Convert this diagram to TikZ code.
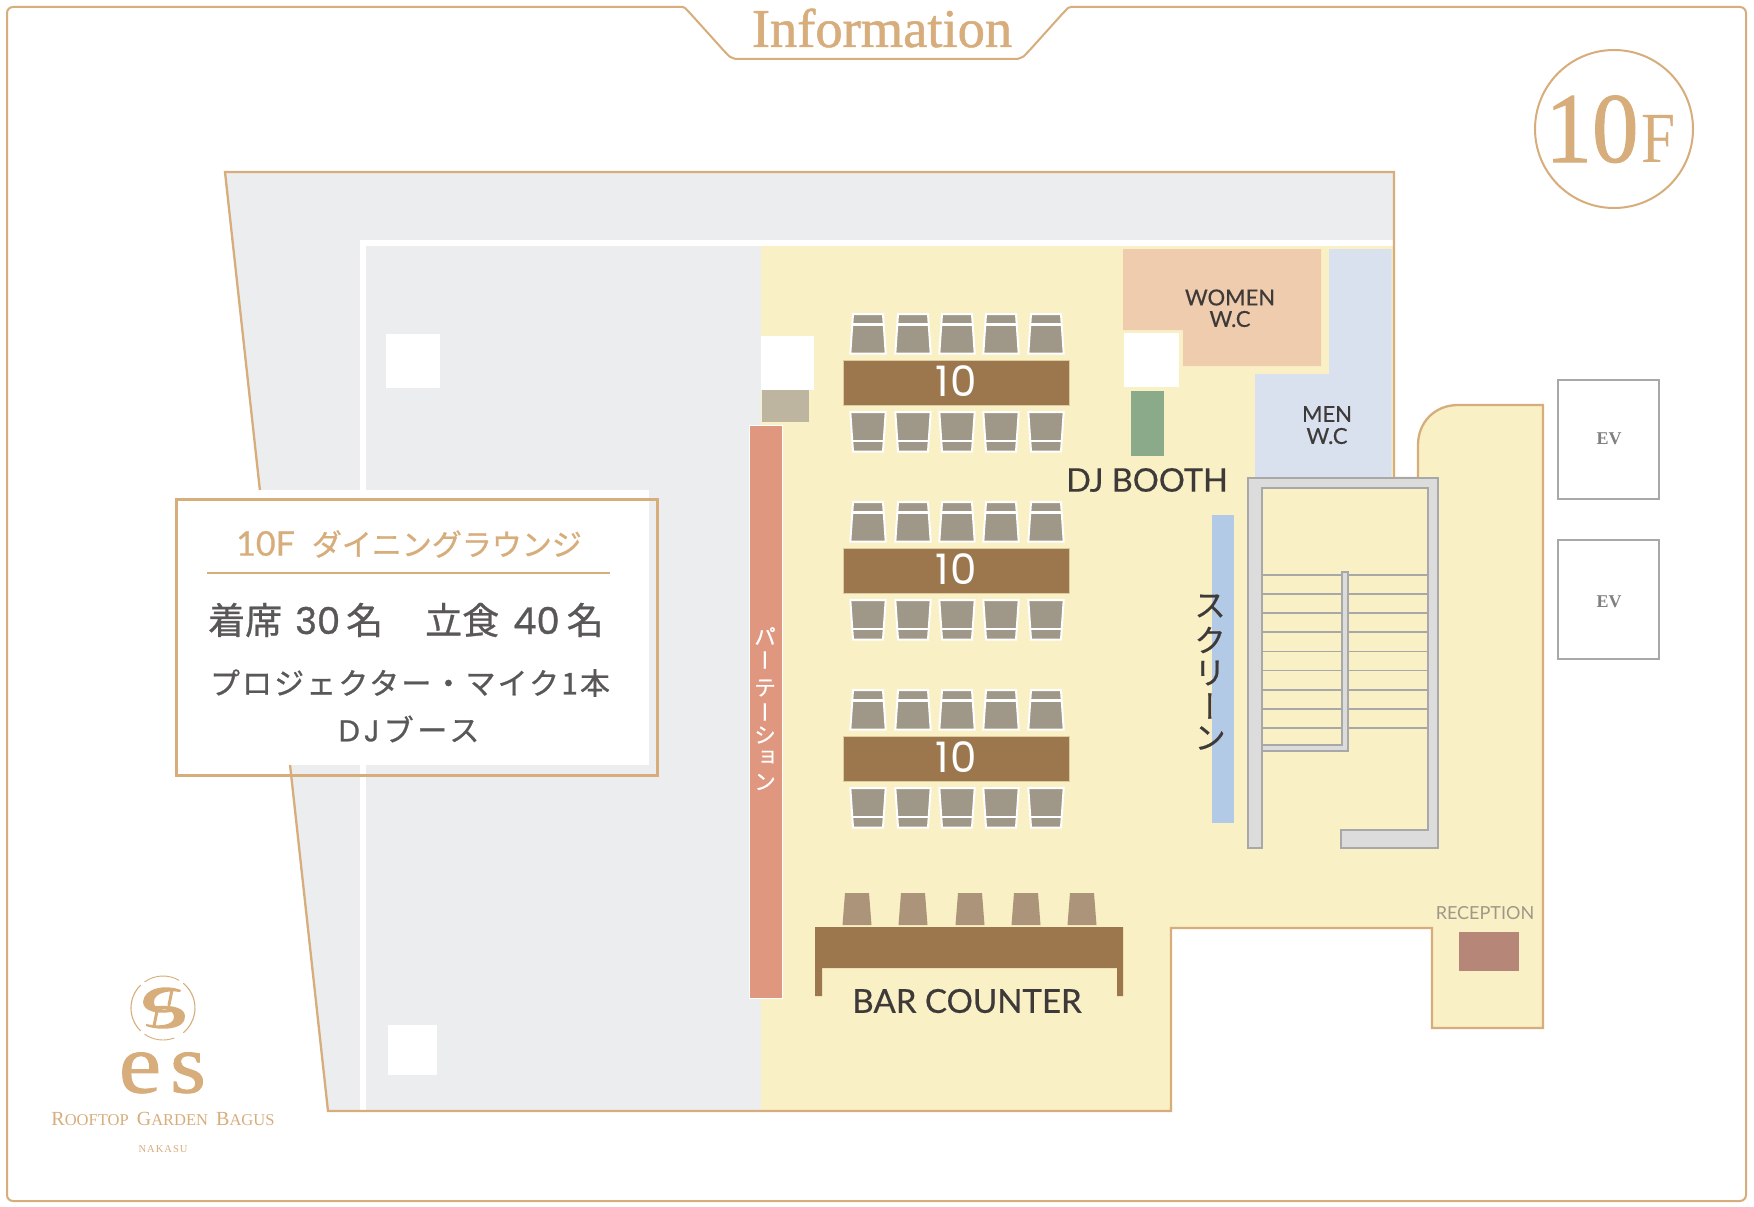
\documentclass[tikz,border=0pt]{standalone}
\usepackage{fontspec}
\setmainfont{Liberation Serif}
\newfontfamily\serb[FakeBold=1.0]{Liberation Serif}
\newfontfamily\jp[FakeBold=0.8]{Noto Sans CJK JP}
\newfontfamily\jpsp[FakeBold=0.8,LetterSpace=7]{Noto Sans CJK JP}
\newfontfamily\jpspw[FakeBold=0.8,LetterSpace=12]{Noto Sans CJK JP}
\newfontfamily\jpv[FakeBold=0.5,RawFeature=+vert]{Noto Sans CJK JP}
\newfontfamily\gill[FakeBold=0.5]{Lato}
\newfontfamily\gillp{Lato}
\newfontfamily\pop{Poppins}
\newfontfamily\popb[FakeBold=0.8]{Poppins}
\definecolor{tan}{HTML}{D7AD7C}
\definecolor{ywl}{HTML}{FAF0C5}
\definecolor{gry}{HTML}{ECEDEF}
\definecolor{brn}{HTML}{9C774E}
\definecolor{chr}{HTML}{9F9889}
\definecolor{bchr}{HTML}{AB9479}
\definecolor{wmn}{HTML}{EFCCAE}
\definecolor{men}{HTML}{D9E1EF}
\definecolor{grn}{HTML}{8AAA8A}
\definecolor{scr}{HTML}{B3CAE6}
\definecolor{prt}{HTML}{E0977F}
\definecolor{khk}{HTML}{BDB5A0}
\definecolor{rcp}{HTML}{B68779}
\definecolor{stg}{HTML}{DCDCDC}
\definecolor{stl}{HTML}{A8A8A8}
\definecolor{ink}{HTML}{3E3A39}
\definecolor{gink}{HTML}{595757}
\newcommand{\fs}[1]{\fontsize{#1}{#1}\selectfont}
\newcommand{\bldpath}{(1394,246) -- (1394,478) -- (1418,478) -- (1418,445) .. controls (1418,422) and (1435,405) .. (1458,405) -- (1543,405) -- (1543,1028) -- (1432,1028) -- (1432,928) -- (1171,928) -- (1171,1111)}
\tikzset{
 wall/.style={draw=tan,line width=2.3pt},
 lbl/.style={text=ink,inner sep=0pt,font=\gill},
 tbltxt/.style={text=white,inner sep=0pt,font=\pop\fs{42}},
 chairshape/.style={fill=chr,draw=white,line width=2pt},
 tread/.style={draw=stl,line width=1.2pt},
 stairwall/.style={fill=stg,draw=stl,line width=1.2pt},
 logotxt/.style={text=tan,inner sep=0pt},
 logostroke/.style={draw=tan,line cap=round},
 evbox/.style={draw=stl,line width=1.5pt,fill=white,minimum width=101pt,minimum height=119pt,inner sep=0pt},
 evtxt/.style={text=gray,inner sep=0pt,font=\bfseries\fs{18}},
}
\begin{document}
\begin{tikzpicture}[x=1pt,y=-1pt]
\useasboundingbox (0,0) rectangle (1754,1207);
\fill[white] (0,0) rectangle (1754,1207);
% outer frame
\draw[draw=tan,line width=2pt,rounded corners=6pt] (677,7) .. controls (682,7) and (685,8) .. (689,12) -- (725,52) .. controls (730,57) and (735,59) .. (742,59) -- (1011,59) .. controls (1018,59) and (1023,57) .. (1028,52) -- (1064,12) .. controls (1068,8) and (1071,7) .. (1077,7) -- (1746,7) -- (1746,1201) -- (7,1201) -- (7,7) -- cycle;
\node[text=tan,inner sep=0pt,font=\serb\fs{54.5}] (title) at (882,28) {Information};
% 10F badge
\node[circle,draw=tan,line width=2pt,minimum size=158pt,inner sep=0pt] (badge) at (1614,129) {};
\node[text=tan,inner sep=0pt,font=\serb\fs{100},anchor=base] (ten) at (1592,162) {\scalebox{0.93}[1]{10}};
\node[text=tan,inner sep=0pt,font=\fs{72},anchor=base] (eff) at (1659,162) {\scalebox{0.85}[1]{F}};
% building
\fill[gry] (225,172) -- (1394,172) -- \bldpath -- (328,1111) -- cycle;
\fill[ywl] (761,246) -- \bldpath -- (761,1111) -- cycle;
\fill[white] (360,240) rectangle (1394,246);
\fill[white] (360,240) rectangle (366,1111);
\draw[wall] (225,172) -- (1394,172) -- \bldpath -- (328,1111) -- cycle;
% pillars
\fill[white] (386,334) rectangle (440,388);
\fill[white] (388,1025) rectangle (437,1075);
\fill[white] (761,336) rectangle (814,390);
\fill[khk] (762,390) rectangle (809,422);
% partition
\fill[prt,draw=white,line width=1pt] (749,425) rectangle (782,998);
\foreach \c/\yy in {パ/636,ー/660,テ/688,ー/712,シ/735,ョ/758,ン/782}{
 \node[text=white,inner sep=0pt,font=\jpv\fs{22}] at (765,\yy) {\c};
}
% wash rooms
\fill[wmn] (1123,249) -- (1321,249) -- (1321,366) -- (1183,366) -- (1183,330) -- (1123,330) -- cycle;
\fill[men] (1329,249) -- (1391.5,249) -- (1391.5,478) -- (1255,478) -- (1255,374) -- (1329,374) -- cycle;
\fill[white] (1124,333) rectangle (1179,387);
\fill[grn] (1131,391) rectangle (1164,456);
\node[lbl,font=\gill\fs{22}] (women) at (1230,297.5) {WOMEN};
\node[lbl,font=\gill\fs{22}] (wc1) at (1230,319) {W.C};
\node[lbl,font=\gill\fs{22}] (mn) at (1327,414) {MEN};
\node[lbl,font=\gill\fs{22}] (wc2) at (1327,436) {W.C};
\node[lbl,font=\gill\fs{32.5}] (dj) at (1147,480) {DJ BOOTH};
% screen
\fill[scr] (1212,515) rectangle (1234,823);
\foreach \c/\yy in {ス/606,ク/640,リ/673,ー/706,ン/738}{
 \node[text=ink,inner sep=0pt,font=\jpv\fs{32}] at (1210,\yy) {\c};
}
% tables
\foreach \dy in {0,188,376}{
 \begin{scope}[yshift=-\dy pt]
 \foreach \cx in {868,913,957,1001,1046}{
  \draw[chairshape] (\cx-15,314) -- (\cx+15,314) -- (\cx+17.7,353.5) -- (\cx-17.7,353.5) -- cycle;
  \draw[draw=white,line width=2.4pt] (\cx-15,324.5) -- (\cx+15,324.5);
  \draw[chairshape] (\cx-17.7,412) -- (\cx+17.7,412) -- (\cx+15,451.5) -- (\cx-15,451.5) -- cycle;
  \draw[draw=white,line width=2.4pt] (\cx-15,441) -- (\cx+15,441);
 }
 \fill[brn,draw=ywl!70!brn,line width=.6pt] (843,360) rectangle (1069,405);
 \end{scope}
}
\node[tbltxt] (t1) at (956,381) {1\hspace{2pt}0};
\node[tbltxt] (t2) at (956,569) {1\hspace{2pt}0};
\node[tbltxt] (t3) at (956,757) {1\hspace{2pt}0};
% bar counter
\foreach \cx in {857,913,970,1026,1082}{
 \fill[bchr] (\cx-12,893) -- (\cx+12,893) -- (\cx+14.5,925) -- (\cx-14.5,925) -- cycle;
}
\fill[brn] (815,927) -- (1123,927) -- (1123,996) -- (1117,996) -- (1117,968) -- (822,968) -- (822,996) -- (815,996) -- cycle;
\node[lbl,font=\gill\fs{33}] (bar) at (967,1001) {BAR COUNTER};
% stairs
\foreach \yy in {575,594,613,632,651.5,670.5,690,709,728}{
 \draw[tread] (1262,\yy) -- (1428,\yy);
}
\draw[stairwall] (1248,848) -- (1248,478) -- (1438,478) -- (1438,848) -- (1341,848) -- (1341,830) -- (1428,830) -- (1428,488) -- (1262,488) -- (1262,848) -- cycle;
\draw[stairwall] (1262,745) -- (1342,745) -- (1342,572) -- (1348,572) -- (1348,751) -- (1262,751) -- cycle;
% reception
\fill[rcp] (1459,932) rectangle (1518.5,971);
\node[text=chr,inner sep=0pt,font=\gillp\fs{18}] (rec) at (1485,913) {RECEPTION};
% EV
\node[evbox] (ev1) at (1608.5,439.5) {};
\node[evbox] (ev2) at (1608.5,599.5) {};
\node[evtxt] (evt1) at (1609,439) {EV};
\node[evtxt] (evt2) at (1609,602) {EV};
% information box
\fill[white] (170,490) rectangle (649,765);
\draw[draw=tan,line width=3pt] (176,499) rectangle (657.5,775);
\draw[draw=tan,line width=2pt] (207,573) -- (610,573);
\node[text=tan,inner sep=0pt,font=\jp\fs{30},anchor=west] (h1) at (236,544) {{\gill\fs{34}10F}\hspace{17pt}ダイニングラウンジ};
\node[text=gink,inner sep=0pt,font=\jp\fs{37},anchor=west] (h2) at (208,620) {着席\hspace{13pt}{\popb 30}\hspace{6pt}名\hspace{42pt}立食\hspace{14pt}{\popb 40}\hspace{7pt}名};
\node[text=gink,inner sep=0pt,font=\jpsp\fs{30},anchor=center] (h3) at (410,683) {プロジェクター・マイク1本};
\node[text=gink,inner sep=0pt,font=\jpspw\fs{30},anchor=center] (h4) at (409,729) {{\popb D\hspace{4pt}J}\hspace{4pt}ブース};
% logo
\draw[logostroke,line width=.9pt] (163,1008) ++(70:32) arc (70:125:32);
\draw[logostroke,line width=1.1pt] (163,1008) ++(135:32) arc (135:225:32);
\draw[logostroke,line width=.9pt] (163,1008) ++(235:32) arc (235:300:32);
\draw[logostroke,line width=1.1pt] (163,1008) ++(-50:32) arc (-50:50:32);
\fill[tan] (181,990) .. controls (165,984) and (144,988) .. (143,1002) .. controls (143,1012) and (160,1015) .. (176,1011) -- (176,1009) .. controls (163,1011) and (153,1009) .. (154,1001) .. controls (155,993) and (168,990) .. (180,992) -- cycle;
\fill[tan] (146,1026) .. controls (160,1031) and (186,1030) .. (185,1016) .. controls (185,1006) and (165,1004) .. (151,1007) -- (151,1009) .. controls (162,1008) and (174,1009) .. (174,1017) .. controls (174,1025) and (160,1027) .. (146,1024) -- cycle;
\draw[logostroke,line width=3pt] (172,990) -- (169,1005);
\draw[logostroke,line width=3pt] (157,1011) -- (154,1026);
\node[logotxt,font=\serb\fs{85},anchor=base] (le) at (140,1092.5) {\scalebox{1.12}[1]{e}};
\node[logotxt,font=\serb\fs{85},anchor=base] (ls) at (188,1092.5) {\scalebox{1.08}[1]{s}};
\node[logotxt,font=\fs{16.5},anchor=base] (rg) at (163,1125) {{\fs{20}R}OOFTOP\hspace{4pt} {\fs{20}G}ARDEN\hspace{4pt} {\fs{20}B}AGUS};
\node[logotxt,font=\fs{10.5},anchor=base] (nk) at (163,1152) {\addfontfeatures{LetterSpace=10}NAKASU};
\end{tikzpicture}
\end{document}
